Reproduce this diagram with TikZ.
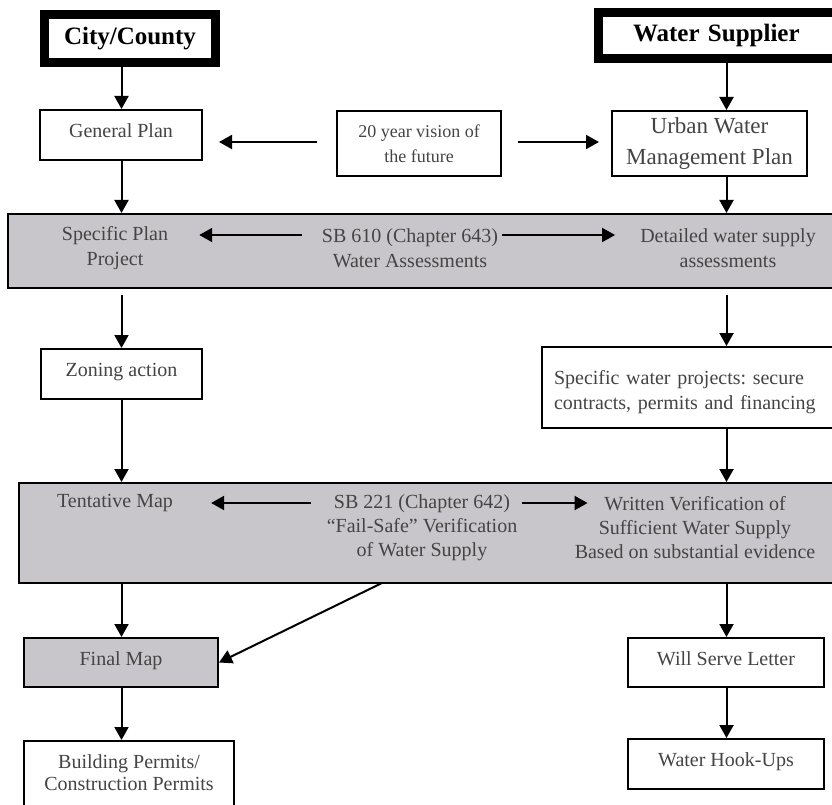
\documentclass[tikz,border=0pt]{standalone}
\usepackage{fontspec}
\setmainfont{Liberation Serif}
\usetikzlibrary{arrows.meta,calc}

\definecolor{bandgray}{RGB}{200,198,203}
\definecolor{textgray}{RGB}{68,68,68}

\frenchspacing
\newcommand{\titlefont}{\fontsize{25}{30}\selectfont\bfseries}
\newcommand{\boxfont}{\fontsize{20}{25}\selectfont}
\newcommand{\visionfont}{\fontsize{18}{25}\selectfont}
\newcommand{\uwmpfont}{\fontsize{23}{31}\selectfont}
\newcommand{\bandfont}{\fontsize{20}{24}\selectfont}
\newcommand{\permitfont}{\fontsize{20}{22}\selectfont}

\begin{document}
\begin{tikzpicture}[x=1pt, y=-1pt,
	flow/.style={line width=2pt, -{Triangle[length=13pt,width=14pt]}},
	titlebox/.style={draw, line width=9pt, inner sep=0pt, font=\titlefont},
	plainbox/.style={draw, line width=2pt, fill=white, inner sep=0pt, align=center, text=textgray, font=\boxfont},
	onebox/.style={plainbox, text height=14pt, text depth=9pt},
	grayband/.style={draw, line width=2pt, fill=bandgray, inner sep=0pt},
	bandtext/.style={inner sep=0pt, align=center, text=textgray, font=\boxfont}]
	
	\useasboundingbox (0,0) rectangle (832,805);
	\clip (0,0) rectangle (832,805);
	
	\coordinate (lcol) at (121.5,0);
	\coordinate (rcol) at (726.5,0);
	
	\node[titlebox, minimum width=171pt, minimum height=48pt] (city) at (130,38.5) {City/County};
	\node[titlebox, minimum height=46pt, inner xsep=34.5pt, text width=191pt, align=left] (supplier) at (728.5,35.5) {Water Supplier};
	
	\node[onebox, minimum width=162pt, minimum height=50pt] (gp) at (121,135) {General Plan};
	\node[plainbox, font=\visionfont, minimum width=164pt, minimum height=65pt] (vision) at (419,143.5) {20 year vision of\\the future};
	\node[plainbox, font=\uwmpfont, minimum width=195pt, minimum height=65pt] (uwmp) at (709.5,143.5) {Urban Water\\Management Plan};
	
	\node[grayband, minimum width=832pt, minimum height=74pt] (band1) at (424,251) {};
	\node[bandtext] (spec) at (115,248) {Specific Plan\\Project};
	\node[bandtext] (sb610) at (410,248) {SB 610 (Chapter 643)\\Water Assessments};
	\node[bandtext] (detail) at (728,248) {Detailed water supply\\assessments};
	
	\node[onebox, minimum width=161pt, minimum height=50pt] (zoning) at (121.5,374) {Zoning action};
	\node[plainbox, align=left, inner xsep=12pt, text width=274pt, text depth=20pt, minimum height=81pt] (swp) at (691,387.5) {Specific water projects: secure\\contracts, permits and financing};
	
	\node[grayband, minimum width=821pt, minimum height=100pt] (band2) at (429.5,533) {};
	\node[bandtext] (tent) at (115,503) {Tentative Map};
	\node[bandtext, font=\bandfont] (sb221) at (422,528) {SB 221 (Chapter 642)\\“Fail-Safe” Verification\\of Water Supply};
	\node[bandtext, font=\bandfont] (written) at (695,528) {Written Verification of\\Sufficient Water Supply\\Based on substantial evidence};
	\coordinate (fork) at (382,583);
	
	\node[onebox, fill=bandgray, minimum width=194pt, minimum height=49pt] (final) at (121,662.5) {Final Map};
	\node[plainbox, font=\permitfont, text depth=8pt, minimum width=210pt, minimum height=71pt] (build) at (129,776.5) {Building Permits/\\Construction Permits};
	\node[onebox, minimum width=196pt, minimum height=49pt] (serve) at (726,662.5) {Will Serve Letter};
	\node[onebox, minimum width=196pt, minimum height=50pt] (hookup) at (726,764) {Water Hook-Ups};
	
	\draw[flow] (lcol |- city.south) -- (lcol |- gp.north);
	\draw[flow] (rcol |- supplier.south) -- (rcol |- uwmp.north);
	\draw[flow] ($(vision.west)+(-19,-1.5)$) -- ($(gp.east)+(16,7)$);
	\draw[flow] ($(vision.east)+(16,-1.5)$) -- ($(uwmp.west)+(-12,-1.5)$);
	\draw[flow] (lcol |- gp.south) -- (lcol |- band1.north);
	\draw[flow] (rcol |- uwmp.south) -- (rcol |- band1.north);
	
	\draw[flow] ($(sb610.west)+(-20,-13)$) -- ($(spec.east)+(31,-13)$);
	\draw[flow] ($(sb610.east)+(4,-13)$) -- ($(detail.west)+(-25,-13)$);
	\draw[flow, shorten <=6pt] (lcol |- band1.south) -- (lcol |- zoning.north);
	\draw[flow, shorten <=6pt] (rcol |- band1.south) -- (rcol |- swp.north);
	\draw[flow] (lcol |- zoning.south) -- (lcol |- band2.north);
	\draw[flow] (rcol |- swp.south) -- (rcol |- band2.north);
	
	\draw[flow] ($(sb221.west)+(-16,-25)$) -- ($(tent.east)+(38,0)$);
	\draw[flow] ($(sb221.east)+(5,-25)$) -- ($(written.west)+(13,-25)$);
	\draw[flow] (lcol |- band2.south) -- (lcol |- final.north);
	\draw[flow] (fork) -- (final.east);
	\draw[flow] (rcol |- band2.south) -- (rcol |- serve.north);
	\draw[flow] (lcol |- final.south) -- (lcol |- build.north);
	\draw[flow] (rcol |- serve.south) -- (rcol |- hookup.north);
	
\end{tikzpicture}
\end{document}
